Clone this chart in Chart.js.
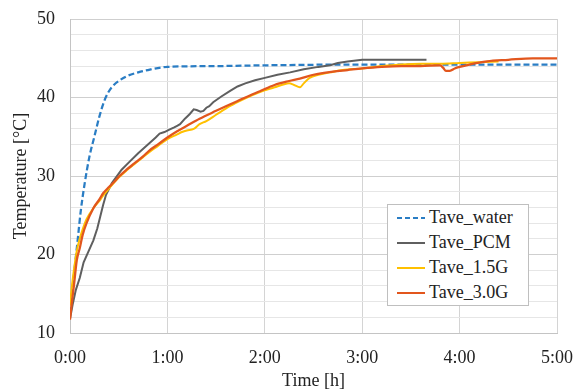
<!DOCTYPE html>
<html lang="en">
<head>
    <meta charset="UTF-8">
    <title>Tave temperature curves</title>
    <script src="https://cdn.jsdelivr.net/npm/chart.js"></script>
    <style>
        html, body {
            margin: 0;
            padding: 0;
            background: #ffffff;
        }
        #wrap {
            position: relative;
            width: 576px;
            height: 390px;
        }
        #legend {
            position: absolute;
            left: 387px;
            top: 204px;
            width: 140px;
            height: 100px;
            border: 1px solid #bfbfbf;
            background: #ffffff;
            font-family: 'Liberation Serif', serif;
            font-size: 18px;
            color: #222;
        }
        .row {
            position: absolute;
            left: 9px;
            height: 25px;
            line-height: 25px;
            white-space: nowrap;
        }
        .swatch {
            display: inline-block;
            width: 28px;
            height: 2px;
            vertical-align: middle;
            margin-right: 4px;
            position: relative;
            top: -1px;
        }
    </style>
</head>
<body>

<div id="wrap">
    <canvas id="tempChart" width="576" height="390"></canvas>
    <div id="legend"></div>
</div>

<script>
// time in hours, temperature in degC
const waterTime = [0, 0.02, 0.05, 0.08, 0.11, 0.15, 0.2, 0.25, 0.3, 0.35, 0.4, 0.45, 0.5, 0.58, 0.7, 0.8, 1.0, 1.5, 2.0, 3.0, 4.0, 5.0];
const waterTemp = [12.5, 15, 18.5, 22, 25.5, 29, 32.5, 35, 37.5, 39.5, 40.8, 41.6, 42.1, 42.7, 43.2, 43.5, 43.9, 44.0, 44.1, 44.2, 44.2, 44.2];

const pcmTime = [0, 0.03, 0.06, 0.1, 0.14, 0.19, 0.24, 0.28, 0.31, 0.34, 0.37, 0.43, 0.53, 0.61, 0.7, 0.8, 0.88, 0.92, 0.97, 1.02, 1.07, 1.1, 1.13, 1.18, 1.23, 1.27, 1.3, 1.34, 1.37, 1.4, 1.43, 1.47, 1.55, 1.64, 1.72, 1.8, 1.9, 2.0, 2.13, 2.26, 2.4, 2.55, 2.67, 2.75, 2.85, 3.0, 3.3, 3.66];
const pcmTemp = [11.8, 13.8, 15.5, 17, 19, 20.4, 21.8, 23.3, 24.8, 26.3, 27.6, 29.1, 30.8, 31.8, 32.9, 34.0, 34.9, 35.4, 35.6, 35.9, 36.2, 36.4, 36.6, 37.3, 37.9, 38.5, 38.4, 38.2, 38.3, 38.7, 38.9, 39.4, 40.1, 40.8, 41.4, 41.8, 42.2, 42.5, 42.9, 43.2, 43.6, 43.9, 44.1, 44.4, 44.6, 44.8, 44.8, 44.8];

const g15Time = [0, 0.02, 0.04, 0.07, 0.1, 0.13, 0.17, 0.24, 0.3, 0.34, 0.4, 0.5, 0.58, 0.66, 0.75, 0.82, 0.9, 1.0, 1.1, 1.15, 1.2, 1.27, 1.33, 1.4, 1.5, 1.64, 1.8, 1.95, 2.1, 2.2, 2.25, 2.3, 2.36, 2.4, 2.46, 2.55, 2.67, 2.8, 3.0, 3.2, 3.4, 3.6, 3.8, 4.0, 4.2, 4.4];
const g15Temp = [13.5, 16, 18, 20.5, 22, 23.2, 24.5, 25.9, 26.8, 27.5, 28.4, 29.8, 30.7, 31.5, 32.4, 33.1, 33.8, 34.7, 35.3, 35.6, 35.8, 36.0, 36.6, 37.0, 37.8, 38.9, 39.9, 40.7, 41.3, 41.7, 41.8, 41.6, 41.3, 41.8, 42.5, 42.9, 43.2, 43.5, 43.7, 44.0, 44.2, 44.3, 44.3, 44.4, 44.5, 44.6];

const g30Time = [0, 0.02, 0.04, 0.07, 0.1, 0.13, 0.17, 0.24, 0.3, 0.34, 0.4, 0.45, 0.5, 0.58, 0.66, 0.75, 0.82, 0.9, 1.0, 1.1, 1.2, 1.33, 1.5, 1.64, 1.8, 1.95, 2.1, 2.25, 2.36, 2.5, 2.7, 2.85, 3.0, 3.2, 3.4, 3.6, 3.8, 3.83, 3.86, 3.9, 3.95, 4.0, 4.1, 4.28, 4.5, 4.75, 5.0];
const g30Temp = [11.7, 14, 16, 19.3, 20.8, 22.5, 24.0, 25.9, 27.0, 27.8, 28.6, 29.2, 29.9, 30.8, 31.6, 32.5, 33.3, 34.0, 34.9, 35.7, 36.4, 37.3, 38.3, 39.1, 40.0, 40.8, 41.6, 42.1, 42.4, 42.9, 43.3, 43.5, 43.7, 43.9, 44.0, 44.0, 44.1, 43.8, 43.4, 43.4, 43.7, 43.9, 44.2, 44.6, 44.8, 45.0, 45.0];

const seriesNames = ['Tave_water', 'Tave_PCM', 'Tave_1.5G', 'Tave_3.0G'];
const timeLabels = ['0:00', '1:00', '2:00', '3:00', '4:00', '5:00'];
const tempLabels = [10, 20, 30, 40, 50];

const colors = ['#2a7dc4', '#5f5f5f', '#ffc000', '#e2561d'];

function toPoints(xs, ys) {
    return xs.map((x, i) => ({ x: x, y: ys[i] }));
}

const fontFace = "'Liberation Serif', 'Times New Roman', serif";

const ctx = document.getElementById('tempChart').getContext('2d');
new Chart(ctx, {
    type: 'line',
    data: {
        datasets: [
            {
                label: seriesNames[0],
                data: toPoints(waterTime, waterTemp),
                borderColor: colors[0],
                borderWidth: 2.25,
                borderDash: [6, 3],
                cubicInterpolationMode: 'monotone',
                order: 4
            },
            {
                label: seriesNames[1],
                data: toPoints(pcmTime, pcmTemp),
                borderColor: colors[1],
                borderWidth: 2,
                order: 3
            },
            {
                label: seriesNames[2],
                data: toPoints(g15Time, g15Temp),
                borderColor: colors[2],
                borderWidth: 2,
                cubicInterpolationMode: 'monotone',
                order: 2
            },
            {
                label: seriesNames[3],
                data: toPoints(g30Time, g30Temp),
                borderColor: colors[3],
                borderWidth: 2.25,
                cubicInterpolationMode: 'monotone',
                order: 1
            }
        ]
    },
    options: {
        responsive: false,
        animation: false,
        layout: { padding: { top: 19, right: 19, left: 0, bottom: 0 } },
        elements: { point: { radius: 0 } },
        plugins: {
            legend: { display: false },
            tooltip: { enabled: false }
        },
        scales: {
            x: {
                type: 'linear',
                min: 0,
                max: 5,
                afterFit: s => { s.height = 57; s.paddingLeft = 0; s.paddingRight = 0; },
                grid: { color: '#d4d4d4', drawTicks: false },
                border: { color: '#c4c4c4' },
                ticks: {
                    stepSize: 1,
                    padding: 14,
                    color: '#222',
                    font: { family: fontFace, size: 18 },
                    callback: (v) => timeLabels[Math.round(v)]
                },
                title: {
                    display: true,
                    text: 'Time [h]',
                    color: '#222',
                    font: { family: fontFace, size: 18 },
                    padding: { top: 0, bottom: -2 }
                }
            },
            y: {
                min: 10,
                max: 50,
                afterFit: s => { s.width = 70; s.paddingTop = 0; s.paddingBottom = 0; },
                grid: {
                    drawTicks: false,
                    color: c => (c.tick && tempLabels.includes(c.tick.value)) ? '#cfcfcf' : '#e6e6e6'
                },
                border: { color: '#c4c4c4' },
                ticks: {
                    stepSize: 2,
                    autoSkip: false,
                    padding: 15,
                    color: '#222',
                    font: { family: fontFace, size: 18 },
                    callback: (v) => tempLabels.includes(v) ? String(v) : ''
                },
                title: {
                    display: true,
                    text: 'Temperature [°C]',
                    color: '#222',
                    font: { family: fontFace, size: 18 },
                    padding: { top: 10, bottom: 0 }
                }
            }
        }
    }
});

// legend box sitting inside the plot area
const legend = document.getElementById('legend');
seriesNames.forEach((name, i) => {
    const row = document.createElement('div');
    row.className = 'row';
    row.style.top = (i * 25 + 0) + 'px';
    const sw = document.createElement('span');
    sw.className = 'swatch';
    if (i === 0) {
        sw.style.background = 'repeating-linear-gradient(to right, ' + colors[0] + ' 0 5px, transparent 5px 8px)';
    } else {
        sw.style.background = colors[i];
    }
    row.appendChild(sw);
    row.appendChild(document.createTextNode(name));
    legend.appendChild(row);
});
</script>

</body>
</html>
